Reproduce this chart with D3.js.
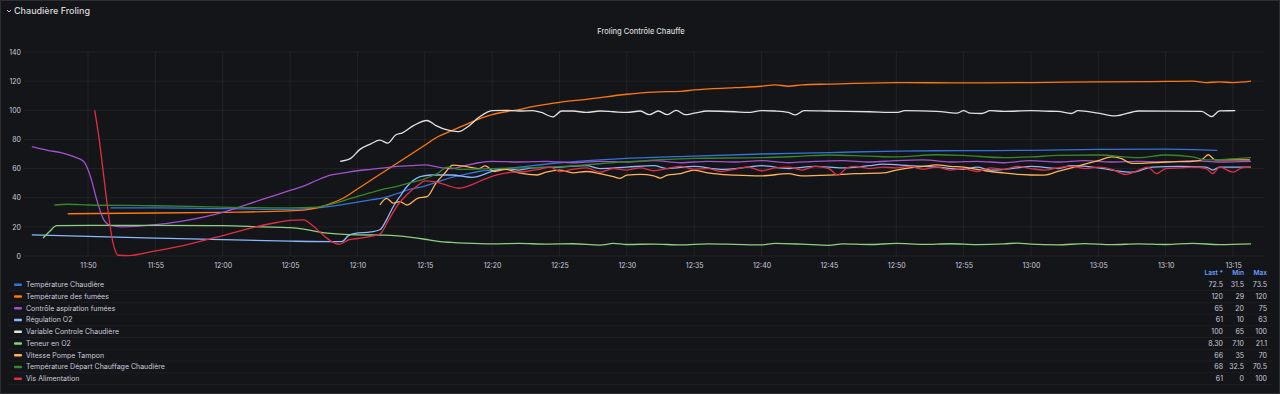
<!DOCTYPE html>
<html>
<head>
<meta charset="utf-8">
<script src="https://cdn.jsdelivr.net/npm/d3@7"></script>
<style>
  html, body { margin: 0; padding: 0; background: #111217; }
  svg { display: block; font-family: Inter, "Noto Sans", sans-serif; }
</style>
</head>
<body>
<script>
// series names and colours
var seriesNames = ["Température Chaudière", "Température des fumées", "Contrôle aspiration fumées",
  "Régulation O2", "Variable Controle Chaudière", "Teneur en O2", "Vitesse Pompe Tampon",
  "Température Départ Chauffage Chaudière", "Vis Alimentation"];
var seriesColors = ["#3274D9", "#FF780A", "#A352CC", "#8AB8FF", "#E0E0E0", "#8CCF80", "#FFB357", "#37872D", "#E02F44"];

// legend values (Last, Min, Max)
var lastValues = ["72.5", "120", "65", "61", "100", "8.30", "66", "68", "61"];
var minValues = ["31.5", "29", "20", "10", "65", "7.10", "35", "32.5", "0"];
var maxValues = ["73.5", "120", "75", "63", "100", "21.1", "70", "70.5", "100"];

var yTicks = [0, 20, 40, 60, 80, 100, 120, 140];

// [time, value] per series
var tempChaudiere = [["11:51:40",33],["11:55:00",33],["12:00:00",32.5],["12:05:00",32],["12:07:00",33],["12:08:00",34],["12:09:00",35.5],["12:10:00",37],["12:11:00",38.5],["12:12:00",40],["12:13:00",43],["12:14:00",46],["12:15:00",48],["12:16:00",51],["12:17:00",54],["12:18:00",56],["12:19:00",58],["12:20:00",59],["12:22:00",61],["12:25:00",64],["12:28:00",66],["12:30:00",67],["12:35:00",68.6],["12:40:00",70],["12:45:00",71],["12:50:00",72],["12:55:00",72.3],["13:00:00",72.5],["13:05:00",73.2],["13:10:00",73.4],["13:13:50",72.5]];

var tempFumees = [["11:48:30",29],["11:55:00",29.5],["12:00:00",30],["12:05:00",31],["12:06:00",31.5],["12:07:00",33],["12:08:00",36],["12:09:00",40],["12:10:00",46],["12:11:00",52],["12:12:00",58],["12:13:00",64],["12:14:00",70],["12:15:00",76],["12:16:00",82],["12:17:00",86],["12:18:00",90],["12:19:00",94],["12:20:00",97],["12:21:00",99],["12:22:00",100.5],["12:23:00",102.5],["12:24:00",104],["12:25:00",105.5],["12:27:00",107.5],["12:30:00",111],["12:32:00",112.5],["12:34:00",113],["12:35:00",114],["12:38:00",115.5],["12:40:00",116.5],["12:41:00",117.5],["12:42:00",116.5],["12:43:00",117.5],["12:45:00",118],["12:50:00",119],["12:55:00",118.8],["13:00:00",119],["13:05:00",119.5],["13:10:00",119.8],["13:12:00",120],["13:13:00",119],["13:14:00",119.5],["13:15:00",119],["13:16:20",120]];

var controleAspiration = [["11:45:50",75],["11:47:00",72.5],["11:48:00",71],["11:49:00",68],["11:49:40",65],["11:50:10",55],["11:50:40",38],["11:51:10",25],["11:51:40",21],["11:52:30",20],["11:55:00",21.5],["11:57:00",24],["12:00:00",30],["12:02:00",36],["12:04:00",42],["12:05:00",45],["12:06:00",48],["12:07:00",52],["12:08:00",55.5],["12:09:00",57],["12:10:00",58.5],["12:11:00",59.5],["12:12:00",60.5],["12:13:00",61.5],["12:14:00",62],["12:15:00",62.5],["12:16:00",61],["12:17:00",60],["12:18:00",62],["12:19:00",64],["12:20:00",65],["12:22:00",64.5],["12:24:00",65],["12:26:00",64],["12:28:00",65],["12:30:00",64.5],["12:32:00",65.5],["12:34:00",64],["12:36:00",65],["12:38:00",64.5],["12:40:00",65.5],["12:42:00",64],["12:44:00",65],["12:46:00",65.5],["12:48:00",64.5],["12:50:00",65.5],["12:52:00",66],["12:54:00",64.5],["12:56:00",65],["12:58:00",64],["13:00:00",65.5],["13:02:00",64.5],["13:04:00",65.5],["13:06:00",64.5],["13:08:00",65],["13:10:00",64.5],["13:12:00",65.5],["13:14:00",64.5],["13:16:20",65]];

var regulationO2 = [["11:45:50",14.5],["11:50:00",13.5],["11:55:00",12.3],["12:00:00",11.2],["12:05:00",10.2],["12:08:50",9.8],["12:09:20",14],["12:09:50",15.5],["12:11:00",16.5],["12:11:40",18],["12:12:10",25],["12:12:40",34],["12:13:10",41],["12:13:40",47.5],["12:14:40",54.4],["12:15:30",55.6],["12:17:00",55.6],["12:18:30",54],["12:20:00",58],["12:21:00",60],["12:22:00",59],["12:23:00",60.5],["12:25:00",61],["12:27:00",62],["12:28:00",60],["12:30:00",61],["12:32:00",62],["12:33:00",60],["12:35:00",61.5],["12:37:00",59.5],["12:39:00",61],["12:40:00",62],["12:42:00",60],["12:44:00",61.5],["12:46:00",60.5],["12:48:00",62],["12:49:00",63],["12:51:00",62],["12:53:00",61],["12:55:00",59.5],["12:56:00",61],["12:57:00",59],["12:59:00",60.5],["13:00:00",61.5],["13:02:00",60],["13:03:00",62],["13:05:00",60.5],["13:06:00",59],["13:07:30",57.5],["13:09:00",61],["13:11:00",61.5],["13:13:00",61],["13:13:30",59],["13:14:00",61],["13:16:20",61]];

var variableControle = [["12:08:43",65],["12:09:30",67],["12:10:10",73],["12:11:00",77],["12:11:40",79.5],["12:12:15",77.5],["12:12:50",83],["12:13:20",84.5],["12:14:10",89.5],["12:15:10",93],["12:15:50",89.5],["12:16:40",86.5],["12:17:30",85.3],["12:18:10",88.5],["12:19:00",95],["12:20:00",99.8],["12:21:00",100],["12:22:00",99.5],["12:23:00",99.8],["12:23:40",98.5],["12:24:30",95.5],["12:25:10",99.5],["12:26:00",99.5],["12:27:00",98.5],["12:28:00",99.5],["12:29:00",99],["12:30:00",98.5],["12:31:00",99.5],["12:31:40",97],["12:32:20",99.5],["12:33:00",97],["12:33:40",100],["12:34:20",97],["12:35:00",98],["12:36:00",99.5],["12:38:00",99],["12:39:00",98.5],["12:40:00",99.8],["12:41:00",99.5],["12:42:00",98.5],["12:42:30",96.8],["12:43:10",99.8],["12:45:00",99.5],["12:48:00",99],["12:50:00",98.5],["12:50:40",99.8],["12:53:00",99.3],["12:54:30",98],["12:55:00",99.7],["12:55:30",98],["12:56:20",97.8],["12:57:00",99.7],["12:58:00",99.3],["13:00:00",99.7],["13:01:00",99.4],["13:02:00",99.2],["13:03:00",97.8],["13:03:30",99.7],["13:05:00",98],["13:06:15",96.1],["13:08:00",99.5],["13:10:00",99.4],["13:12:40",99.2],["13:13:25",95.7],["13:14:00",99.6],["13:15:10",99.7]];

var teneurO2 = [["11:46:40",12.4],["11:47:10",17],["11:47:40",20.8],["11:50:00",21],["11:55:00",21],["12:00:00",20.8],["12:03:00",20],["12:05:00",19.5],["12:06:00",18.5],["12:07:00",16.8],["12:08:00",15.5],["12:09:00",14.8],["12:10:00",14.5],["12:12:00",14.3],["12:13:00",13.8],["12:14:00",12.8],["12:15:00",11.5],["12:16:00",10],["12:17:00",9.3],["12:18:00",8.8],["12:20:00",8.3],["12:22:00",8.6],["12:24:00",8.2],["12:26:00",8.4],["12:28:00",7.5],["12:29:00",8.6],["12:30:00",7.9],["12:32:00",8.2],["12:34:00",7.6],["12:36:00",8.3],["12:38:00",8],["12:40:00",7.6],["12:41:00",8.6],["12:43:00",8.1],["12:45:00",7.3],["12:46:00",8.3],["12:48:00",7.9],["12:50:00",8.6],["12:52:00",8],["12:54:00",8.4],["12:56:00",7.8],["12:58:00",8.3],["12:59:00",8.9],["13:00:00",8.1],["13:02:00",7.6],["13:04:00",8.5],["13:06:00",7.8],["13:08:00",8.3],["13:10:00",7.9],["13:12:00",8.7],["13:14:00",7.8],["13:16:20",8.3]];

var pompeTampon = [["12:11:40",35],["12:12:10",39.6],["12:12:40",36.3],["12:13:10",37.3],["12:13:40",35],["12:14:30",39.8],["12:15:10",40.7],["12:15:50",50],["12:16:30",57],["12:17:05",62.4],["12:17:50",61.8],["12:19:00",60],["12:19:30",61.8],["12:20:10",58],["12:21:00",59.5],["12:22:00",57],["12:23:20",55.6],["12:24:00",57.5],["12:25:00",59],["12:26:00",57],["12:27:00",58],["12:28:00",56.5],["12:29:00",54.5],["12:29:30",53.3],["12:30:00",55.5],["12:31:00",56],["12:32:00",55],["12:32:30",53.5],["12:33:00",55.5],["12:34:00",56.5],["12:35:00",59],["12:36:00",57],["12:37:00",56],["12:38:00",55.5],["12:40:00",55],["12:42:00",56.5],["12:43:00",55],["12:45:00",55.5],["12:47:00",56.5],["12:49:00",57],["12:50:00",59],["12:51:00",60.5],["12:52:00",61.5],["12:53:00",62.5],["12:54:00",61.5],["12:55:00",61],["12:56:00",59.5],["12:57:00",58],["12:58:00",57],["12:59:00",56],["13:00:00",55.6],["13:01:00",55.5],["13:02:00",58],["13:03:00",60.5],["13:04:00",63],["13:05:00",65.5],["13:06:00",68],["13:06:40",67],["13:07:30",63.5],["13:08:00",63.5],["13:10:00",64.5],["13:12:00",65],["13:12:40",66],["13:13:10",69.5],["13:13:40",66],["13:14:00",66],["13:16:15",66]];

var departChauffage = [["11:47:30",35],["11:48:30",35.5],["11:50:00",35],["11:55:00",34.5],["12:00:00",33.5],["12:05:00",33],["12:07:00",33.5],["12:08:00",35.5],["12:09:00",38],["12:10:00",41],["12:11:00",43.5],["12:12:00",46],["12:13:00",48],["12:14:00",50.5],["12:15:00",53],["12:16:00",57],["12:16:40",61],["12:17:30",59.5],["12:20:00",60],["12:25:00",61.3],["12:30:00",64.7],["12:35:00",67],["12:40:00",67.5],["12:43:00",68.5],["12:45:00",69.3],["12:48:00",68.5],["12:50:00",68],["12:53:00",69.5],["12:55:00",69],["12:58:00",67.5],["13:00:00",68],["13:02:00",69],["13:05:00",69.3],["13:08:00",67.5],["13:10:00",69.3],["13:12:00",68],["13:13:00",66],["13:16:20",67.5]];

var visAlimentation = [["11:50:30",100],["11:50:50",80],["11:51:10",55],["11:51:30",30],["11:51:50",10],["11:52:15",0.5],["11:53:00",0.3],["11:55:00",3.5],["11:57:00",7],["12:00:00",14],["12:02:00",19],["12:04:00",23],["12:05:00",24.5],["12:06:00",24.8],["12:06:40",21],["12:07:30",14],["12:08:10",9.5],["12:08:40",8],["12:09:20",11],["12:10:00",12],["12:11:00",13.5],["12:11:40",15],["12:12:20",25],["12:13:00",35],["12:13:40",42],["12:14:30",48.5],["12:15:00",51.5],["12:15:40",51],["12:16:40",48.5],["12:17:30",46.5],["12:18:30",49],["12:19:30",53],["12:20:30",56],["12:21:30",57.5],["12:22:30",58],["12:23:30",59.5],["12:24:20",61],["12:25:00",58],["12:26:00",59.5],["12:27:00",60.5],["12:28:00",57.5],["12:29:00",60],["12:30:00",59],["12:31:00",60.5],["12:32:00",58.5],["12:33:00",60],["12:34:00",61.5],["12:35:00",59.5],["12:36:00",60],["12:37:00",58],["12:38:00",59.5],["12:39:00",61],["12:40:00",58.5],["12:41:00",60.5],["12:42:00",61],["12:43:00",59],["12:44:00",61.5],["12:45:00",60],["12:45:40",55.5],["12:46:20",60.5],["12:47:00",61.5],["12:48:00",60],["12:49:00",61],["12:50:00",60.5],["12:51:00",61.5],["12:52:00",59.5],["12:53:00",61],["12:54:00",59],["12:55:00",60],["12:56:00",58],["12:57:00",60.5],["12:58:00",59.5],["12:59:00",61.5],["13:00:00",60],["13:01:00",59],["13:02:00",60.5],["13:03:00",61.5],["13:04:00",60],["13:05:00",61],["13:06:00",59.5],["13:07:00",56],["13:08:00",59],["13:08:40",61],["13:09:20",56.5],["13:10:00",60],["13:11:00",60.5],["13:12:00",61],["13:13:00",60],["13:13:30",56.5],["13:14:00",61],["13:15:00",57.5],["13:15:40",60.5],["13:16:20",61]];

var allSeries = [tempChaudiere, tempFumees, controleAspiration, regulationO2, variableControle,
  teneurO2, pompeTampon, departChauffage, visAlimentation];

var W = 1280, H = 394;
var parseT = d3.timeParse("%H:%M:%S");

var svg = d3.select("body").append("svg").attr("width", W).attr("height", H);

svg.append("rect").attr("x", 0.5).attr("y", 0.5).attr("width", W - 1).attr("height", H - 1)
  .attr("fill", "#141519").attr("stroke", "#2c2e33");

// row header
svg.append("path").attr("d", "M7,10 L9,12 L11,10").attr("fill", "none")
  .attr("stroke", "#ccccdc").attr("stroke-width", 1);
svg.append("text").text("Chaudière Froling").attr("x", 14).attr("y", 14)
  .attr("fill", "#d8d9da").attr("font-size", 9).attr("font-weight", 500);

// panel title
svg.append("text").text("Froling Contrôle Chauffe").attr("x", 641).attr("y", 34)
  .attr("text-anchor", "middle").attr("fill", "#d8d9da").attr("font-size", 7.5).attr("font-weight", 500);

var x = d3.scaleTime().domain([parseT("11:45:15"), parseT("13:17:18")]).range([24, 1264]);
var y = d3.scaleLinear().domain([0, 140]).range([256, 52]);

// grid
var grid = svg.append("g");
grid.selectAll("line.h").data(yTicks).enter().append("line").attr("class", "h")
  .attr("x1", 24).attr("x2", 1264)
  .attr("y1", function(d){ return y(d); }).attr("y2", function(d){ return y(d); })
  .attr("stroke", "#ffffff").attr("stroke-opacity", 0.06);
var xTicks = x.ticks(d3.timeMinute.every(5));
grid.selectAll("line.v").data(xTicks).enter().append("line").attr("class", "v")
  .attr("y1", 52).attr("y2", 256)
  .attr("x1", function(d){ return x(d); }).attr("x2", function(d){ return x(d); })
  .attr("stroke", "#ffffff").attr("stroke-opacity", 0.06);

// axes
var yAxis = svg.append("g").attr("transform", "translate(21,0)")
  .call(d3.axisLeft(y).tickValues(yTicks).tickSize(0).tickPadding(0));
var xAxis = svg.append("g").attr("transform", "translate(0,260)")
  .call(d3.axisBottom(x).tickValues(xTicks).tickFormat(d3.timeFormat("%H:%M")).tickSize(0).tickPadding(3));
[yAxis, xAxis].forEach(function(a){
  a.select(".domain").remove();
  a.selectAll("text").attr("fill", "#ccccdc").attr("font-size", 7).attr("font-family", "Inter, sans-serif");
});

// lines
var line = d3.line()
  .x(function(d){ return x(parseT(d[0])); })
  .y(function(d){ return y(d[1]); })
  .curve(d3.curveMonotoneX);

svg.append("g").selectAll("path").data(allSeries).enter().append("path")
  .attr("d", line)
  .attr("fill", "none")
  .attr("stroke", function(d, i){ return seriesColors[i]; })
  .attr("stroke-width", 1.3);

// legend
var rowY = function(i){ return 284.7 + i * 11.75; };
var cols = [[1223, "Last *", lastValues], [1244, "Min", minValues], [1267, "Max", maxValues]];
cols.forEach(function(c){
  svg.append("text").text(c[1]).attr("x", c[0]).attr("y", 275).attr("text-anchor", "end")
    .attr("fill", "#6e9fff").attr("font-size", 6.5).attr("font-weight", 600);
});
var lg = svg.append("g").selectAll("g").data(seriesNames).enter().append("g");
lg.append("line").attr("x1", 8).attr("x2", 1272)
  .attr("y1", function(d, i){ return rowY(i) + 5.9; }).attr("y2", function(d, i){ return rowY(i) + 5.9; })
  .attr("stroke", "#ffffff").attr("stroke-opacity", 0.04);
lg.append("rect").attr("x", 14).attr("width", 8).attr("height", 2.5)
  .attr("y", function(d, i){ return rowY(i) - 1.25; })
  .attr("rx", 1).attr("fill", function(d, i){ return seriesColors[i]; });
lg.append("text").text(function(d){ return d; }).attr("x", 26)
  .attr("y", function(d, i){ return rowY(i) + 2.4; })
  .attr("fill", "#ccccdc").attr("font-size", 7);
cols.forEach(function(c){
  lg.append("text").text(function(d, i){ return c[2][i]; }).attr("x", c[0])
    .attr("y", function(d, i){ return rowY(i) + 2.4; }).attr("text-anchor", "end")
    .attr("fill", "#ccccdc").attr("font-size", 7);
});
</script>
</body>
</html>
